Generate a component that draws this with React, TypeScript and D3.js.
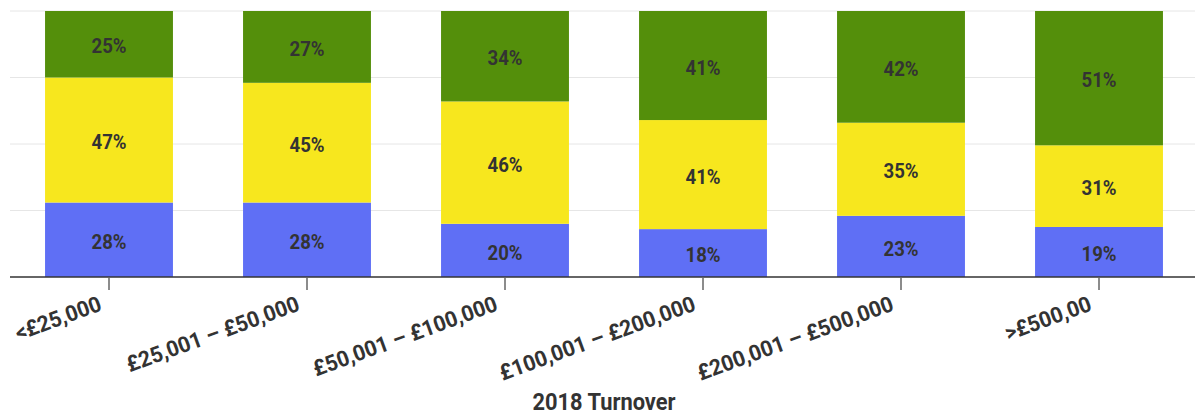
import React from 'react';
import * as d3 from 'd3';

const categories = ['<£25,000', '£25,001 – £50,000', '£50,001 – £100,000', '£100,001 – £200,000', '£200,001 – £500,000', '>£500,00'];
const seriesKeys = ['blue', 'yellow', 'green'];
const blueValues = [28, 28, 20, 18, 23, 19];
const yellowValues = [47, 45, 46, 41, 35, 31];
const greenValues = [25, 27, 34, 41, 42, 51];
const gridTicks = [0, 0.25, 0.5, 0.75, 1];
const axisTitle = '2018 Turnover';

const colors: Record<string, string> = {
  blue: '#5f6ff5',
  yellow: '#f7e71e',
  green: '#548f0b',
};

const W = 1195;
const H = 416;
const FONT = 'Roboto, sans-serif';

export default function App() {
  const rows = categories.map((c, i) => ({
    cat: c,
    blue: blueValues[i],
    yellow: yellowValues[i],
    green: greenValues[i],
  }));

  // last column sums to 101, so normalise to 100%
  const stack = d3.stack<any>().keys(seriesKeys).offset(d3.stackOffsetExpand);
  const layers = stack(rows);

  const x = d3.scaleBand<string>()
    .domain(categories)
    .range([10, 1198])
    .paddingInner(0.354)
    .paddingOuter(0.177);

  const y = d3.scaleLinear().domain([0, 1]).range([277, 11]);
  const baseY = y(0);

  return (
    <svg width={W} height={H} style={{ position: 'absolute', left: 0, top: 0 }} fontFamily={FONT}>
      {/* grid */}
      {gridTicks.slice(1).map(t => (
        <line key={t} x1={10} x2={W} y1={y(t)} y2={y(t)} stroke="#e6e6e6" strokeWidth={1} />
      ))}

      {/* bars */}
      {layers.map(layer => (
        <g key={layer.key} fill={colors[layer.key]}>
          {layer.map((d, i) => (
            <rect
              key={i}
              x={x(categories[i])}
              y={y(d[1])}
              width={x.bandwidth()}
              height={y(d[0]) - y(d[1])}
            />
          ))}
        </g>
      ))}

      {/* value labels */}
      {layers.map(layer => (
        <g key={layer.key + '-lbl'}>
          {layer.map((d, i) => {
            const cx = (x(categories[i]) ?? 0) + x.bandwidth() / 2;
            const cy = (y(d[0]) + y(d[1])) / 2;
            return (
              <text
                key={i}
                transform={`translate(${cx},${cy}) scale(0.93,1)`}
                textAnchor="middle"
                dy="0.46em"
                fontSize={20}
                fontWeight="bold"
                fill="#333333"
              >
                {(d.data as any)[layer.key]}%
              </text>
            );
          })}
        </g>
      ))}

      {/* x axis */}
      <line x1={10} x2={W} y1={baseY} y2={baseY} stroke="#333333" strokeWidth={1.5} />
      {categories.map(c => {
        const cx = (x(c) ?? 0) + x.bandwidth() / 2;
        return (
          <g key={c}>
            <line x1={cx} x2={cx} y1={baseY} y2={baseY + 13} stroke="#666666" strokeWidth={1.5} />
            <text
              transform={`translate(${cx - 6},${baseY + 33}) rotate(-20) scale(0.97,1)`}
              textAnchor="end"
              fontSize={22}
              fontWeight="bold"
              fill="#333333"
            >
              {c}
            </text>
          </g>
        );
      })}

      <text
        transform={`translate(${(10 + 1198) / 2},${H - 6}) scale(0.95,1)`}
        textAnchor="middle"
        fontSize={23}
        fontWeight="bold"
        fill="#333333"
      >
        {axisTitle}
      </text>
    </svg>
  );
}
